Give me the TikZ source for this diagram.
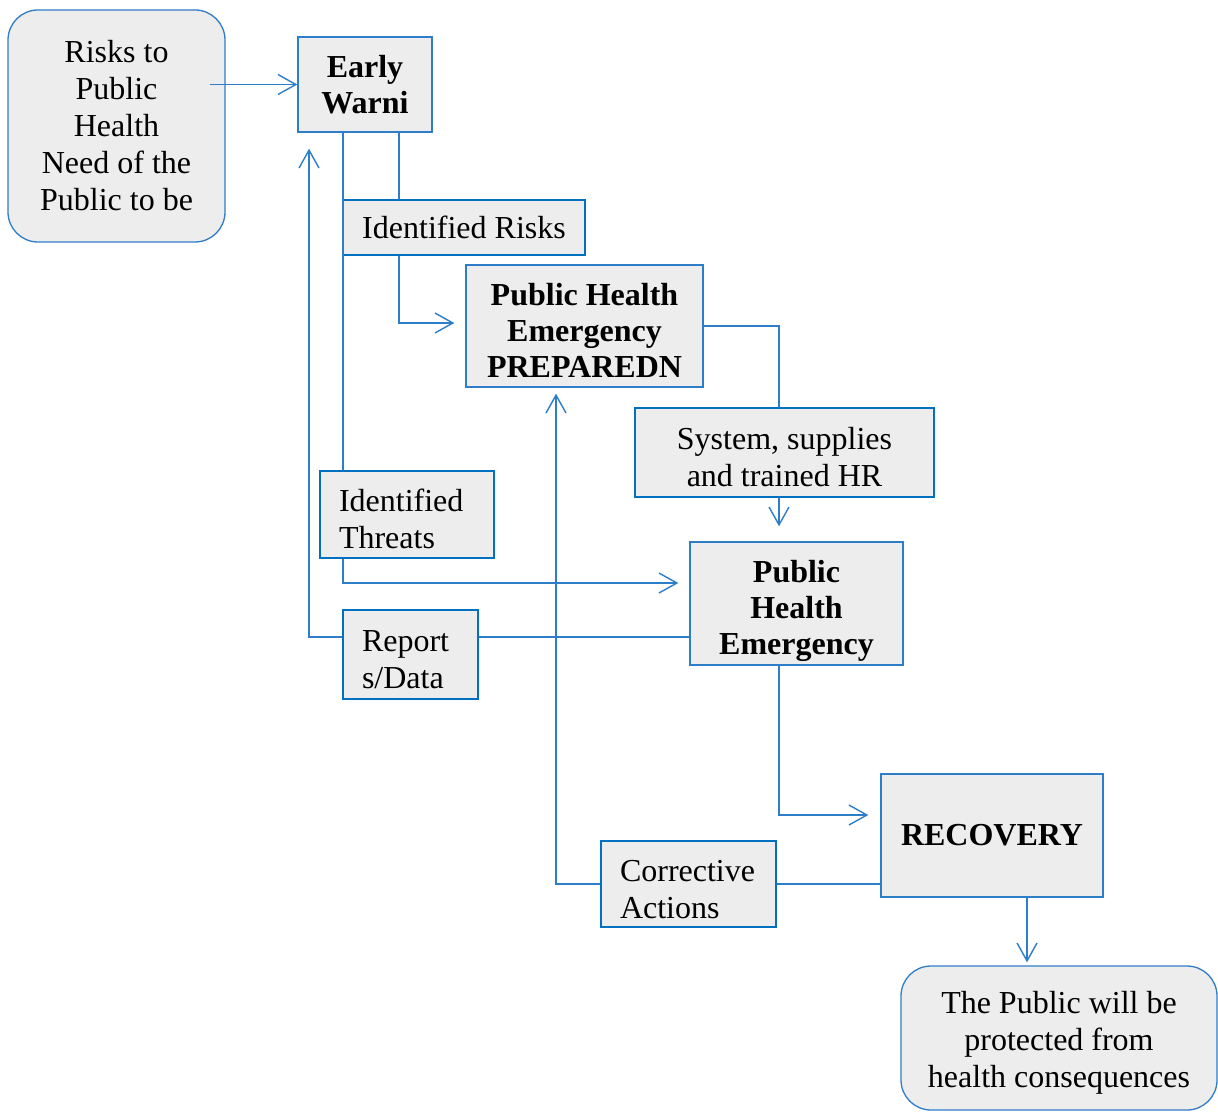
\documentclass[tikz,border=0pt]{standalone}
\usepackage{fontspec}
\setmainfont{Liberation Serif}
\usetikzlibrary{arrows.meta}

\definecolor{boxfill}{RGB}{237,237,237}
\definecolor{linkblue}{RGB}{46,125,200}
\definecolor{edgeblue}{RGB}{0,112,192}
\newcommand{\lift}[1][16pt]{\rule{0pt}{#1}}

\begin{document}
\begin{tikzpicture}[x=0.5pt, y=-0.5pt,
    every node/.style={font=\fontsize{16}{18.5}\selectfont},
    stage/.style={draw=linkblue, line width=0.65pt, fill=boxfill, align=center, inner sep=0pt},
    title/.style={stage, font=\fontsize{16}{18}\selectfont\bfseries},
    flow/.style={stage, draw=edgeblue, line width=1.2pt, align=left, inner xsep=9.5pt},
    endpoint/.style={stage, rounded corners=15pt},
    link/.style={draw=linkblue, line width=0.7pt},
    >={Straight Barb[length=9pt, width=10pt]}]
  \useasboundingbox (0,0) rectangle (1218,1112);

  \node[endpoint, minimum width=217*0.5pt, minimum height=232*0.5pt] (risks) at (116.5,126)
    {Risks to\\Public\\Health\\Need of the\\Public to be};
  \node[title, minimum width=134*0.5pt, minimum height=95*0.5pt] (early) at (365,84.5) {Early\\Warni};
  \node[flow, align=center, minimum width=242*0.5pt, minimum height=55*0.5pt] (idrisks) at (464,227.5) {Identified Risks};
  \node[title, minimum width=237*0.5pt, minimum height=122*0.5pt] (prep) at (584.5,326)
    {\lift Public Health\\Emergency\\PREPAREDN};
  \node[flow, align=center, minimum width=299*0.5pt, minimum height=89*0.5pt] (system) at (784.5,452.5)
    {\lift System, supplies\\and trained HR};
  \node[flow, text width=68pt, minimum height=87*0.5pt] (idthreats) at (407,514.5) {\lift Identified\\Threats};
  \node[title, minimum width=213*0.5pt, minimum height=123*0.5pt] (phe) at (796.5,603.5)
    {\lift[19pt]Public\\Health\\Emergency};
  \node[flow, text width=48.5pt, minimum height=89*0.5pt] (report) at (410.5,654.5) {\lift Report\\s/Data};
  \node[title, minimum width=222*0.5pt, minimum height=123*0.5pt] (recovery) at (992,835.5) {RECOVERY};
  \node[flow, text width=68.5pt, minimum height=86*0.5pt] (actions) at (688.5,884) {\lift Corrective\\Actions};
  \node[endpoint, minimum width=316*0.5pt, minimum height=144*0.5pt] (public) at (1059,1038)
    {\lift The Public will be\\protected from\\health consequences};

  % line positions
  \coordinate (riskline) at (399,0);
  \coordinate (threatline) at (343,0);
  \coordinate (reportline) at (309,0);
  \coordinate (prepline) at (779,0);
  \coordinate (actline) at (556,0);
  \coordinate (outline) at (1027,0);
  \coordinate (riskrow) at (0,323);
  \coordinate (threatrow) at (0,583);
  \coordinate (reportrow) at (0,637);
  \coordinate (recrow) at (0,815);

  \draw[link, ->, shorten <=-8pt] (risks.east |- early.west) -- (early.west);
  \draw[link] (early.south -| riskline) -- (idrisks.north -| riskline);
  \draw[link, ->, shorten >=5.5pt] (idrisks.south -| riskline) |- (prep.west |- riskrow);
  \draw[link] (early.south -| threatline) -- (idthreats.north -| threatline);
  \draw[link, ->, shorten >=5.5pt] (idthreats.south -| threatline) |- (phe.west |- threatrow);
  \draw[link] (phe.west |- reportrow) -- (report.east |- reportrow);
  \draw[link, ->, shorten >=8pt] (report.west |- reportrow) -| (early.south -| reportline);
  \draw[link] (prep.east) -| (system.north -| prepline);
  \draw[link, ->, shorten >=7.5pt] (system.south -| prepline) -- (phe.north -| prepline);
  \draw[link, ->, shorten >=6pt] (phe.south -| prepline) |- (recovery.west |- recrow);
  \draw[link] (recovery.west |- actions.east) -- (actions.east);
  \draw[link, ->, shorten >=3pt] (actions.west) -| (prep.south -| actline);
  \draw[link, ->, shorten >=1.5pt] (recovery.south -| outline) -- (public.north -| outline);
\end{tikzpicture}
\end{document}
